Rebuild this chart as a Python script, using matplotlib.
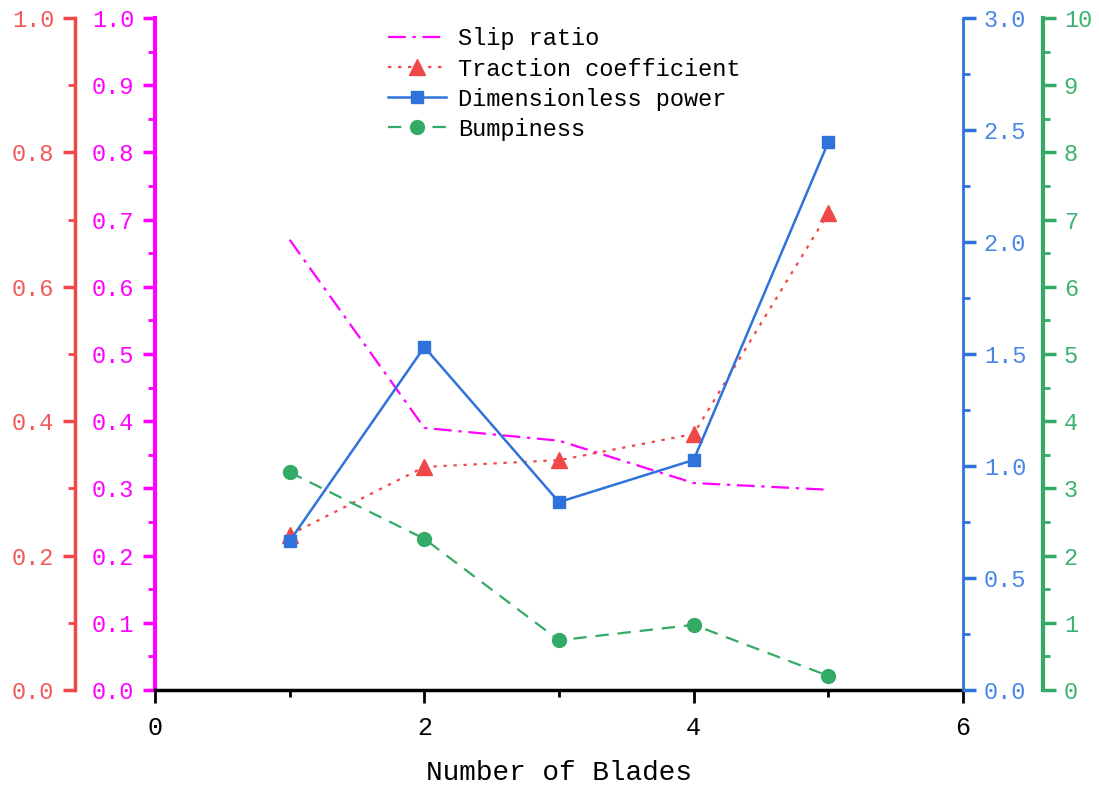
import matplotlib
matplotlib.use("Agg")
import matplotlib.pyplot as plt
from matplotlib.ticker import MultipleLocator, FormatStrFormatter

blades = [1, 2, 3, 4, 5]
slip_ratio = [0.670, 0.390, 0.371, 0.308, 0.298]
traction = [0.231, 0.332, 0.342, 0.381, 0.710]
power = [0.665, 1.531, 0.839, 1.027, 2.446]
bumpiness = [3.24, 2.25, 0.74, 0.97, 0.21]

plt.rcParams['font.family'] = ['Liberation Mono', 'DejaVu Sans Mono']

C_RED = '#F04848'
C_MAG = '#FF00FF'
C_BLUE = '#2F72DC'
C_GREEN = '#33AA66'
C_RED_T = '#F05A5A'
C_BLUE_T = '#4A86E8'
C_GREEN_T = '#3CB371'

DPI = 100
OUT = 80 * 72 / DPI  # 80 px outward, in points

fig = plt.figure(figsize=(10.99, 7.89), dpi=DPI)
ax = fig.add_axes([155/1099, 1-690/789, (963-155)/1099, (690-18)/789])
ax_red = ax.twinx()
ax_blue = ax.twinx()
ax_green = ax.twinx()

FS = 17

# main (magenta) axis
ax.set_xlim(0, 6)
ax.set_ylim(0, 1.0)
for s in ['top', 'right']:
    ax.spines[s].set_visible(False)
ax.spines['left'].set_color(C_MAG)
ax.spines['left'].set_linewidth(3)
ax.spines['bottom'].set_color('black')
ax.spines['bottom'].set_linewidth(2.5)
ax.xaxis.set_major_locator(MultipleLocator(2))
ax.xaxis.set_minor_locator(MultipleLocator(1))
ax.yaxis.set_major_locator(MultipleLocator(0.1))
ax.yaxis.set_minor_locator(MultipleLocator(0.05))
ax.yaxis.set_major_formatter(FormatStrFormatter('%.1f'))
ax.tick_params(axis='y', which='major', color=C_MAG, labelcolor=C_MAG, length=9, width=2.5, labelsize=FS, pad=6)
ax.tick_params(axis='y', which='minor', color=C_MAG, length=5, width=2)
ax.tick_params(axis='x', which='major', colors='black', length=9, width=2, labelsize=FS + 1, pad=10)
ax.tick_params(axis='x', which='minor', colors='black', length=5, width=2)
ax.set_xlabel('Number of Blades', fontsize=20, labelpad=14)

# red axis (left, outward)
ax_red.set_ylim(0, 1.0)
ax_red.yaxis.set_label_position('left')
ax_red.yaxis.tick_left()
for s in ['top', 'right', 'bottom']:
    ax_red.spines[s].set_visible(False)
ax_red.spines['left'].set_visible(True)
ax_red.spines['left'].set_position(('outward', OUT))
ax_red.spines['left'].set_color(C_RED)
ax_red.spines['left'].set_linewidth(2.5)
ax_red.yaxis.set_major_locator(MultipleLocator(0.2))
ax_red.yaxis.set_minor_locator(MultipleLocator(0.1))
ax_red.yaxis.set_major_formatter(FormatStrFormatter('%.1f'))
ax_red.tick_params(axis='y', which='major', color=C_RED, labelcolor=C_RED_T, length=9, width=2.5, labelsize=FS, pad=6)
ax_red.tick_params(axis='y', which='minor', color=C_RED, length=5, width=2)

# blue axis (right)
ax_blue.set_ylim(0, 3.0)
for s in ['top', 'left', 'bottom']:
    ax_blue.spines[s].set_visible(False)
ax_blue.spines['right'].set_color(C_BLUE)
ax_blue.spines['right'].set_linewidth(2)
ax_blue.yaxis.set_major_locator(MultipleLocator(0.5))
ax_blue.yaxis.set_minor_locator(MultipleLocator(0.25))
ax_blue.yaxis.set_major_formatter(FormatStrFormatter('%.1f'))
ax_blue.tick_params(axis='y', which='major', color=C_BLUE, labelcolor=C_BLUE_T, length=9, width=2.5, labelsize=FS, pad=6)
ax_blue.tick_params(axis='y', which='minor', color=C_BLUE, length=5, width=2)

# green axis (right, outward)
ax_green.set_ylim(0, 10)
for s in ['top', 'left', 'bottom']:
    ax_green.spines[s].set_visible(False)
ax_green.spines['right'].set_position(('outward', OUT))
ax_green.spines['right'].set_color(C_GREEN)
ax_green.spines['right'].set_linewidth(3)
ax_green.yaxis.set_major_locator(MultipleLocator(1))
ax_green.yaxis.set_minor_locator(MultipleLocator(0.5))
ax_green.tick_params(axis='y', which='major', color=C_GREEN, labelcolor=C_GREEN_T, length=9, width=2.5, labelsize=FS, pad=6)
ax_green.tick_params(axis='y', which='minor', color=C_GREEN, length=5, width=2)

l1, = ax.plot(blades, slip_ratio, color=C_MAG, linestyle=(0, (8, 3, 1.5, 3)), linewidth=1.6, label='Slip ratio')
l2, = ax_red.plot(blades, traction, color=C_RED, linestyle=(0, (1.5, 3)), linewidth=1.6,
                  marker='^', markersize=11, label='Traction coefficient')
l3, = ax_blue.plot(blades, power, color=C_BLUE, linestyle='-', linewidth=1.8,
                   marker='s', markersize=9, label='Dimensionless power')
l4, = ax_green.plot(blades, bumpiness, color=C_GREEN, linestyle=(0, (6, 4)), linewidth=1.6,
                    marker='o', markersize=10, label='Bumpiness')

leg = ax_green.legend(handles=[l1, l2, l3, l4], loc='upper left',
                      bbox_to_anchor=((379-155)/808, 1.0), frameon=False,
                      fontsize=FS, handlelength=2.45, handletextpad=0.5, labelspacing=0.3,
                      borderaxespad=0.0)

fig.savefig('out.png', dpi=DPI)
